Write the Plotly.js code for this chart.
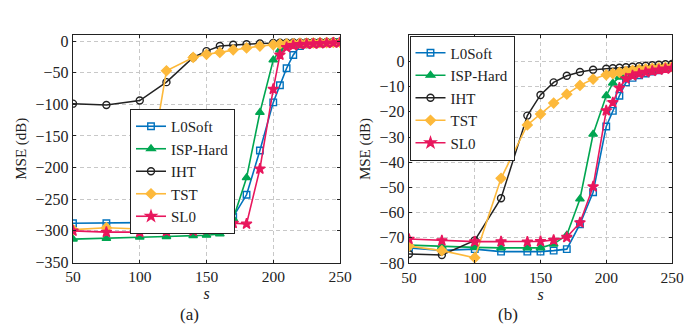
<!DOCTYPE html>
<html>
<head>
<meta charset="utf-8">
<script src="https://cdn.plot.ly/plotly-3.0.1.min.js"></script>
<style>html,body{margin:0;padding:0;background:#fff;}#chart{width:684px;height:326px;}</style>
</head>
<body>
<div id="chart"></div>
<script>
const s = [50,75,100,120,140,150,160,170,180,190,200,205,210,215,220,225,230,235,240,245,250];
const seriesNames = ["L0Soft","ISP-Hard","IHT","TST","SL0"];

// Panel (a)
const l0soft_a = [-288,-288,-287,-286,-285,-285,-284,-278,-243,-173,-97,-70,-43,-22,-8,-5,-4,-3.5,-3,-2.5,-2];
const isp_a    = [-313,-312,-310,-309,-307.5,-307,-305,-281,-216,-113,-30,-14,-8,-5,-4,-3.5,-3,-2.5,-2.2,-2,-1.8];
const iht_a    = [-99,-101,-94,-65,-26,-16,-8,-6,-5,-4,-3,-2.8,-2.6,-2.4,-2.2,-2,-1.8,-1.6,-1.4,-1.2,-1];
const tst_a    = [-298,-295,-297,-47,-26,-21,-18,-14,-11,-8,-6,-5,-4.5,-4,-3.5,-3.2,-3,-2.7,-2.5,-2.2,-2];
const sl0_a    = [-300,-302,-302,-301,-300,-298,-296,-288,-289,-202,-76,-22,-10,-7,-5.5,-5,-4.5,-4,-3.5,-3,-2.5];

// Panel (b)
const l0soft_b = [-74,-75,-74.5,-75.5,-75.5,-75.5,-75.1,-74.5,-64.6,-51.9,-25.8,-19.6,-13.6,-8.3,-6.5,-5.5,-4.8,-4,-3.5,-3,-2.5];
const isp_b    = [-72.9,-73.5,-73.8,-74,-74,-74,-72.5,-68.9,-54.6,-28.9,-13.6,-8.6,-6.2,-5.2,-4.6,-4.1,-3.7,-3.3,-3,-2.7,-2.4];
const iht_b    = [-76.4,-76.8,-71,-54.3,-21.5,-13.3,-8.3,-5.7,-4.2,-3.3,-2.9,-2.7,-2.5,-2.3,-2.1,-1.9,-1.7,-1.5,-1.3,-1.1,-1.0];
const tst_b    = [-73.3,-75.1,-77.9,-46.4,-25.2,-20.9,-16.5,-13,-9.5,-7,-5.3,-4.8,-4.3,-3.9,-3.5,-3.2,-2.9,-2.7,-2.5,-2.3,-2.1];
const sl0_b    = [-70.5,-71.1,-71.5,-71.5,-71.6,-71.4,-70.9,-69.8,-64,-49.7,-19.5,-16.3,-10.5,-6.8,-5.6,-4.9,-4.3,-3.8,-3.4,-3,-2.7];

const yTicksA = [0,-50,-100,-150,-200,-250,-300,-350];
const yTicksB = [0,-10,-20,-30,-40,-50,-60,-70,-80];
const xTicks = [50,100,150,200,250];

const styles = [
  {color:"#0072BD", symbol:"square-open", size:6.5, lw:1.6},
  {color:"#00A651", symbol:"triangle-up", size:7.5, lw:1.6},
  {color:"#222222", symbol:"circle-open", size:7, lw:1.5},
  {color:"#FDB93B", symbol:"diamond", size:7.5, lw:1.6},
  {color:"#E8175D", symbol:"star", size:8, lw:1.6}
];

const dataA = [l0soft_a, isp_a, iht_a, tst_a, sl0_a];
const dataB = [l0soft_b, isp_b, iht_b, tst_b, sl0_b];
const traces = [];
function mk(ys, i, xa, ya, lg){
  const st = styles[i];
  return {x:s, y:ys, name:seriesNames[i], type:"scatter", mode:"lines+markers",
    xaxis:xa, yaxis:ya, legend:lg,
    line:{color:st.color, width:st.lw},
    marker:{symbol:st.symbol, size:st.size, color:st.color, line:{color:st.color, width:1.4}}};
}
dataA.forEach((ys,i)=>traces.push(mk(ys,i,"x","y","legend")));
dataB.forEach((ys,i)=>traces.push(mk(ys,i,"x2","y2","legend2")));

const fam = "'Liberation Serif', 'DejaVu Serif', serif";
const font = {family:fam, size:15, color:"#222"};
const tickFont = {family:fam, size:16, color:"#222"};
const xTickFont = {family:fam, size:15.5, color:"#222"};
const axCommon = {showline:true, linecolor:"#222", linewidth:1.2, mirror:"ticks",
  ticks:"inside", ticklen:3, tickcolor:"#222", showgrid:true, gridcolor:"#c8c8c8",
  griddash:"4px,3px", gridwidth:1, zeroline:false, tickfont:tickFont, ticklabeloverflow:"allow"};
const minus = v => String(v).replace("-","\u2212");

const layout = {
  width:684, height:326, margin:{l:0,r:0,t:0,b:0},
  paper_bgcolor:"#fff", plot_bgcolor:"#fff", font:font,
  xaxis: Object.assign({}, axCommon, {domain:[73/684, 340/684], range:[50,250], tickvals:xTicks, ticktext:xTicks.map(String), anchor:"y",
    tickfont:xTickFont, title:{text:"<i>s</i>", font:tickFont, standoff:0}}),
  yaxis: Object.assign({}, axCommon, {domain:[1-262.5/326, 1-35/326], range:[-350,9.5], tickvals:yTicksA, ticktext:yTicksA.map(minus), anchor:"x",
    title:{text:"MSE (dB)", font:font, standoff:5}}),
  xaxis2: Object.assign({}, axCommon, {domain:[409/684, 672/684], range:[50,250], tickvals:xTicks, ticktext:xTicks.map(String), anchor:"y2",
    tickfont:xTickFont, title:{text:"<i>s</i>", font:tickFont, standoff:0}}),
  yaxis2: Object.assign({}, axCommon, {domain:[1-263/326, 1-35/326], range:[-80,10.5], tickvals:yTicksB, ticktext:yTicksB.map(minus), anchor:"x2",
    title:{text:"MSE (dB)", font:font, standoff:5}}),
  legend:{x:130/684, y:1-109/326, xanchor:"left", yanchor:"top", bgcolor:"#fff", bordercolor:"#222", borderwidth:1,
    font:font, tracegroupgap:0, itemwidth:30},
  legend2:{x:409.5/684, y:1-35.5/326, xanchor:"left", yanchor:"top", bgcolor:"#fff", bordercolor:"#222", borderwidth:1,
    font:font, tracegroupgap:0, itemwidth:30},
  annotations:[
    {text:"(a)", x:178/684, y:1-314/326, xref:"paper", yref:"paper", showarrow:false, font:{family:fam, size:17, color:"#222"}, yanchor:"middle"},
    {text:"(b)", x:520/684, y:1-314/326, xref:"paper", yref:"paper", showarrow:false, font:{family:fam, size:17, color:"#222"}, yanchor:"middle"}
  ],
  showlegend:true
};

Plotly.newPlot("chart", traces, layout, {displayModeBar:false, staticPlot:true});
</script>
</body>
</html>
